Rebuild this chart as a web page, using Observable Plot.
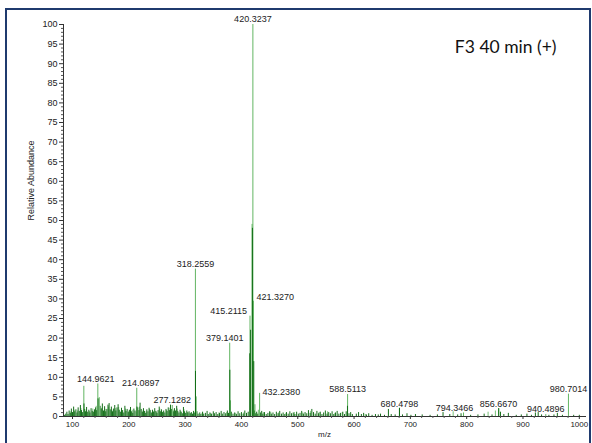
<!DOCTYPE html>
<html>
<head>
<meta charset="utf-8">
<script src="https://cdn.jsdelivr.net/npm/d3@7"></script>
<script src="https://cdn.jsdelivr.net/npm/@observablehq/plot@0.6"></script>
<style>
  html, body { margin: 0; padding: 0; background: #fff; }
  #wrap { position: relative; width: 592px; height: 443px; overflow: hidden; }
  #border { position: absolute; left: 5px; top: 8px; width: 586px; height: 450px;
            border: 2px solid #1f3a6e; pointer-events: none; box-sizing: border-box; }
</style>
</head>
<body>
<div id="wrap"><div id="border"></div></div>
<script>
// ---- data ----
const title = "F3 40 min (+)";
const xLabel = "m/z";
const yLabel = "Relative Abundance";
const xTicks = [100, 200, 300, 400, 500, 600, 700, 800, 900, 1000];
const yTicks = [0, 5, 10, 15, 20, 25, 30, 35, 40, 45, 50, 55, 60, 65, 70, 75, 80, 85, 90, 95, 100];

// labelled peaks (m/z, relative abundance)
const peakMz  = [144.9621, 214.0897, 277.1282, 318.2559, 379.1401, 415.2115, 420.3237, 421.3270, 432.2380, 588.5113, 680.4798, 794.3466, 856.6670, 940.4896, 980.7014];
const peakInt = [8.3, 7.2, 2.8, 37.6, 18.7, 25.6, 100, 29.4, 5.9, 5.6, 2.0, 0.9, 2.0, 0.5, 5.7];

// unlabelled light peaks
const lightMz  = [120.1, 147.5, 418.9, 319.6, 380.4, 424.0];
const lightInt = [7.7, 4.8, 49, 5.0, 4.0, 3.0];

// dark cores of the main peaks
const coreMz  = [318.4, 379.4, 414.8, 416.3, 419.5, 421.9, 120.4, 145.4, 214.4, 588.3, 661.0, 680.7, 856.9];
const coreInt = [11.5, 11.8, 16, 22, 48, 14, 3.2, 4.5, 2.4, 2.6, 1.8, 2.1, 2.0];

// grass (dark green sticks)
const grass = [
 [86,0.3],[88,0.6],[90,1.1],[92,0.5],[94,1.4],[96,0.8],[98,1.9],[100,1.0],[102,2.4],[104,1.2],[106,1.7],[108,0.9],
 [110,2.2],[112,1.3],[114,2.8],[116,1.5],[118,1.0],[121,1.8],[123,1.2],[125,2.3],[127,1.1],[129,1.6],[131,0.9],
 [133,2.0],[135,1.3],[137,1.1],[139,1.7],[141,2.2],[143,1.5],[149,2.6],[151,1.9],[153,3.2],[155,1.4],[157,2.5],
 [159,1.2],[161,1.8],[163,2.9],[165,3.3],[167,1.7],[169,2.4],[171,1.2],[173,1.9],[175,2.8],[177,1.4],[179,2.2],
 [181,3.0],[183,1.6],[185,1.1],[187,2.1],[189,1.5],[191,0.9],[193,2.6],[195,1.3],[197,1.8],[199,1.0],[201,1.6],
 [203,2.3],[205,1.2],[207,0.8],[209,1.9],[211,1.4],[216,2.2],[218,1.5],[220,3.4],[222,1.8],[224,1.1],[226,2.0],
 [228,1.3],[230,0.8],[232,1.7],[234,1.2],[236,2.1],[238,1.5],[240,0.9],[242,1.6],[244,1.1],[246,2.0],[248,1.3],
 [250,0.8],[252,1.5],[254,2.4],[256,1.2],[258,1.7],[260,1.0],[262,1.4],[264,0.9],[266,1.8],[268,1.3],[270,2.2],
 [272,1.5],[274,2.9],[276,1.8],[279,1.2],[281,2.0],[283,1.4],[285,2.6],[287,1.3],[289,0.9],[291,1.6],[293,1.1],
 [295,0.7],[297,2.3],[299,1.2],[301,0.8],[303,1.4],[305,0.9],[307,1.2],[309,0.7],[311,1.0],[313,0.6],[315,1.3],
 [317,0.9],[321,1.2],[323,0.6],[326,0.9],[328,0.5],[331,1.1],[333,0.6],[336,0.8],[339,1.3],[341,0.5],[344,0.9],
 [347,0.6],[350,1.2],[352,0.7],[355,1.0],[358,0.5],[361,0.8],[364,1.3],[366,0.6],[369,1.0],[372,0.7],[375,1.4],
 [377,0.8],[382,1.1],[385,0.6],[388,0.9],[391,0.5],[394,1.2],[397,0.7],[400,1.0],[403,0.6],[406,1.4],[409,0.8],
 [412,1.1],[423,1.4],[425,0.7],[427,1.1],[429,0.6],[434,0.9],[436,1.3],[438,0.6],[441,1.0],[444,0.5],[447,0.8],
 [450,1.2],[453,0.6],[456,0.9],[459,0.5],[462,1.1],[465,0.7],[468,1.3],[471,0.6],[474,0.9],[477,0.5],[480,1.0],
 [483,0.6],[486,1.2],[489,0.7],[492,0.9],[495,0.5],[498,1.1],[501,0.6],[504,0.8],[507,1.3],[510,0.6],[513,1.0],
 [516,0.7],[519,1.5],[522,0.8],[525,1.8],[528,1.0],[531,0.6],[534,1.3],[537,0.7],[540,1.1],[543,0.5],[546,0.9],
 [549,1.4],[552,0.6],[555,1.0],[558,0.7],[561,1.2],[564,0.5],[567,0.9],[570,1.3],[573,0.6],[576,0.8],[580,1.1],
 [583,0.5],[586,1.2],[591,0.7],[594,1.0],[597,0.5],
 [604,0.6],[608,1.0],[613,0.5],[617,0.8],[622,0.4],[626,0.7],[632,0.3],[638,0.5],[643,0.4],[647,0.6],[654,0.3],
 [666,0.5],[673,0.4],[686,0.4],[694,0.7],[701,0.3],[709,0.5],[721,0.4],[735,0.3],[748,0.4],[758,1.0],[770,0.5],
 [784,0.4],[790,0.7],[807,0.3],[820,0.4],[831,0.6],[845,0.4],[860,1.1],[866,0.5],[874,0.8],[888,0.3],[897,0.4],
 [907,0.6],[915,0.3],[922,0.9],[927,1.0],[933,0.4],[946,0.3],[955,0.4],[961,0.8],[970,0.3],[990,0.3],[1000,0.3]
];
// lighter grass between the dark sticks
const lightGrass = [
 [97,1.2],[103,1.6],[109,1.4],[115,2.0],[124,1.7],[130,1.3],[136,1.9],[142,2.6],[152,2.1],[158,1.8],[164,2.4],
 [170,1.6],[176,2.0],[182,2.3],[188,1.5],[194,1.9],[200,1.3],[206,1.6],[213,1.1],[219,2.4],[225,1.4],[231,1.2],
 [237,1.8],[243,1.3],[249,1.1],[255,1.9],[261,1.2],[267,1.5],[273,2.1],[280,1.6],[286,1.9],[292,1.2],[298,1.7],
 [304,1.0],[310,0.8],[330,0.8],[345,0.7],[360,0.9],[374,1.0],[390,0.8],[404,0.9],[430,1.6],[439,1.0],[452,1.1],
 [466,0.9],[479,0.8],[494,1.0],[509,0.9],[523,1.3],[538,1.0],[553,1.2],[566,0.8],[579,1.0],[620,0.5],[776,1.2],
 [838,1.1],[851,1.4]
];

// ---- style config ----
const LIGHT = "#62b562", DARK = "#126e17", GRASS = "#176f1b", LGRASS = "#78c078";
const labelPlacement = {
  "415.2115": {textAnchor: "end", dx: -3, dy: -5},
  "421.3270": {textAnchor: "start", dx: 3, dy: -4},
  "432.2380": {textAnchor: "start", dx: 3, dy: -1},
  "379.1401": {dx: -5},
  "214.0897": {dx: 4},
  "794.3466": {dx: -9},
  "144.9621": {dx: -2}
};

const fmt = d3.format(".4f");
const peaks = peakMz.map((m, i) => ({mz: m, v: peakInt[i], label: fmt(m)}));
const lights = lightMz.map((m, i) => ({mz: m, v: lightInt[i]}));
const cores = coreMz.map((m, i) => ({mz: m, v: coreInt[i]}));
const grassData = grass.map(([m, v]) => ({mz: m, v}));
const lightGrassData = lightGrass.map(([m, v]) => ({mz: m, v}));
const xMinor = d3.range(100, 1001, 20).filter(v => v % 100 !== 0);
const yMinor = d3.range(0, 101, 1).filter(v => v % 5 !== 0);

const labelMarks = peaks.map(p => {
  const o = labelPlacement[p.label] || {};
  return Plot.text([p], {x: "mz", y: "v", text: "label",
    textAnchor: o.textAnchor || "middle", dx: o.dx || 0, dy: o.dy != null ? o.dy : -5,
    fontSize: 9, fill: "#222"});
});

const chart = Plot.plot({
  width: 592, height: 443,
  marginLeft: 63, marginRight: 7, marginTop: 24, marginBottom: 27,
  style: {fontFamily: "'Liberation Sans', Arial, sans-serif", background: "transparent", color: "#222"},
  x: {domain: [84, 1011]},
  y: {domain: [0, 100]},
  marks: [
    Plot.ruleX(lightGrassData, {x: "mz", y1: 0, y2: "v", stroke: LGRASS, strokeWidth: 1}),
    Plot.ruleX(grassData, {x: "mz", y1: 0, y2: "v", stroke: GRASS, strokeWidth: 1}),
    Plot.ruleX(lights, {x: "mz", y1: 0, y2: "v", stroke: LIGHT, strokeWidth: 1}),
    Plot.ruleX(peaks, {x: "mz", y1: 0, y2: "v", stroke: LIGHT, strokeWidth: 1}),
    Plot.ruleX(cores, {x: "mz", y1: 0, y2: "v", stroke: DARK, strokeWidth: 1}),
    ...labelMarks,
    Plot.frame({anchor: "left", stroke: "#333"}),
    Plot.frame({anchor: "bottom", stroke: "#333"}),
    Plot.axisY(yTicks, {tickSize: 4, tickPadding: 2, fontSize: 9, label: null, stroke: "#333"}),
    Plot.axisY(yMinor, {tickSize: 2, tickFormat: () => "", label: null, stroke: "#555"}),
    Plot.axisX(xTicks, {tickSize: 3, tickPadding: 2, fontSize: 8, label: null, stroke: "#333", tickFormat: d => String(d)}),
    Plot.axisX(xMinor, {tickSize: 2, tickFormat: () => "", label: null, stroke: "#555"}),
    Plot.text([xLabel], {frameAnchor: "bottom", dy: 20, fontSize: 8, fill: "#222"}),
    Plot.text([yLabel], {frameAnchor: "left", dx: -32, rotate: -90, fontSize: 9, fill: "#222"}),
    Plot.text([title], {frameAnchor: "top-right", textAnchor: "end", dx: -29, dy: 16,
      fontSize: 17.5, fontFamily: "Lato, 'Open Sans', sans-serif", fill: "#111"})
  ]
});
document.getElementById("wrap").prepend(chart);
</script>
</body>
</html>
